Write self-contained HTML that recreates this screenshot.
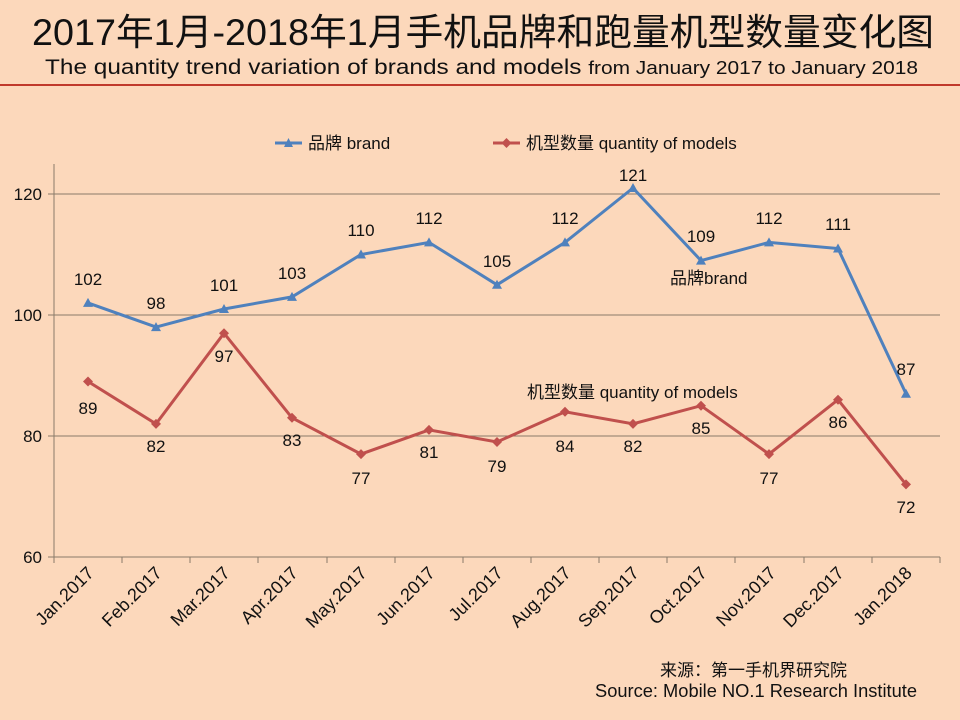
<!DOCTYPE html>
<html><head><meta charset="utf-8"><style>
html,body{margin:0;padding:0;background:#fcd8bb;}
svg{display:block;font-family:"Liberation Sans","Noto Sans CJK SC",sans-serif;}
</style></head><body>
<svg width="960" height="720" viewBox="0 0 960 720" xmlns="http://www.w3.org/2000/svg">
<rect width="960" height="720" fill="#fcd8bb"/>
<text x="32" y="45" font-size="37" fill="#111" textLength="902" lengthAdjust="spacingAndGlyphs" font-family="'Liberation Sans','Noto Sans CJK SC',sans-serif">2017年1月-2018年1月手机品牌和跑量机型数量变化图</text>
<text x="45" y="74" font-size="21" fill="#111" textLength="873" lengthAdjust="spacingAndGlyphs">The quantity trend variation of brands and models <tspan font-size="18">from January 2017 to January 2018</tspan></text>
<line x1="0" y1="85" x2="960" y2="85" stroke="#c0392b" stroke-width="2"/>
<!-- legend -->
<line x1="275" y1="143" x2="302" y2="143" stroke="#4f81bd" stroke-width="3"/>
<polygon points="288.5,138 293,147 284,147" fill="#4f81bd"/>
<text x="308" y="149" font-size="17" fill="#111">品牌 brand</text>
<line x1="493" y1="143" x2="520" y2="143" stroke="#c0504d" stroke-width="3"/>
<polygon points="506.5,138 511.5,143 506.5,148 501.5,143" fill="#c0504d"/>
<text x="526" y="149" font-size="17" fill="#111">机型数量 quantity of models</text>
<!-- grid -->
<g stroke="#8a7a6a" stroke-width="1">
<line x1="48" y1="194" x2="940" y2="194"/>
<line x1="48" y1="315" x2="940" y2="315"/>
<line x1="48" y1="436" x2="940" y2="436"/>
<line x1="48" y1="557" x2="940" y2="557"/>
<line x1="54" y1="164" x2="54" y2="563"/>
<line x1="122" y1="557" x2="122" y2="563"/><line x1="190" y1="557" x2="190" y2="563"/><line x1="258" y1="557" x2="258" y2="563"/><line x1="327" y1="557" x2="327" y2="563"/><line x1="395" y1="557" x2="395" y2="563"/><line x1="463" y1="557" x2="463" y2="563"/><line x1="531" y1="557" x2="531" y2="563"/><line x1="599" y1="557" x2="599" y2="563"/><line x1="667" y1="557" x2="667" y2="563"/><line x1="735" y1="557" x2="735" y2="563"/><line x1="804" y1="557" x2="804" y2="563"/><line x1="872" y1="557" x2="872" y2="563"/><line x1="940" y1="557" x2="940" y2="563"/>
</g>
<g font-size="17" fill="#111" text-anchor="end">
<text x="42" y="200">120</text><text x="42" y="321">100</text><text x="42" y="442">80</text><text x="42" y="563">60</text>
</g>
<g font-size="18" fill="#111" text-anchor="end">
<text transform="translate(95,574) rotate(-45)">Jan.2017</text>
<text transform="translate(163,574) rotate(-45)">Feb.2017</text>
<text transform="translate(231,574) rotate(-45)">Mar.2017</text>
<text transform="translate(299,574) rotate(-45)">Apr.2017</text>
<text transform="translate(368,574) rotate(-45)">May.2017</text>
<text transform="translate(436,574) rotate(-45)">Jun.2017</text>
<text transform="translate(504,574) rotate(-45)">Jul.2017</text>
<text transform="translate(572,574) rotate(-45)">Aug.2017</text>
<text transform="translate(640,574) rotate(-45)">Sep.2017</text>
<text transform="translate(708,574) rotate(-45)">Oct.2017</text>
<text transform="translate(777,574) rotate(-45)">Nov.2017</text>
<text transform="translate(845,574) rotate(-45)">Dec.2017</text>
<text transform="translate(913,574) rotate(-45)">Jan.2018</text>
</g>
<polyline fill="none" stroke="#4f81bd" stroke-width="3" points="88,302.9 156,327.1 224,309 292,296.9 361,254.5 429,242.4 497,284.8 565,242.4 633,188 701,260.6 769,242.4 838,248.5 906,393.7"/>
<g fill="#4f81bd">
<polygon points="88,297.9 93,306.9 83,306.9"/><polygon points="156,322.1 161,331.1 151,331.1"/><polygon points="224,304 229,313 219,313"/><polygon points="292,291.9 297,300.9 287,300.9"/><polygon points="361,249.5 366,258.5 356,258.5"/><polygon points="429,237.4 434,246.4 424,246.4"/><polygon points="497,279.8 502,288.8 492,288.8"/><polygon points="565,237.4 570,246.4 560,246.4"/><polygon points="633,183 638,192 628,192"/><polygon points="701,255.6 706,264.6 696,264.6"/><polygon points="769,237.4 774,246.4 764,246.4"/><polygon points="838,243.5 843,252.5 833,252.5"/><polygon points="906,388.7 911,397.7 901,397.7"/>
</g>
<polyline fill="none" stroke="#c0504d" stroke-width="3" points="88,381.5 156,423.9 224,333.2 292,417.8 361,454.1 429,429.9 497,442 565,411.8 633,423.9 701,405.7 769,454.1 838,399.7 906,484.4"/>
<g fill="#c0504d">
<polygon points="88,376.5 93,381.5 88,386.5 83,381.5"/><polygon points="156,418.9 161,423.9 156,428.9 151,423.9"/><polygon points="224,328.2 229,333.2 224,338.2 219,333.2"/><polygon points="292,412.8 297,417.8 292,422.8 287,417.8"/><polygon points="361,449.1 366,454.1 361,459.1 356,454.1"/><polygon points="429,424.9 434,429.9 429,434.9 424,429.9"/><polygon points="497,437 502,442 497,447 492,442"/><polygon points="565,406.8 570,411.8 565,416.8 560,411.8"/><polygon points="633,418.9 638,423.9 633,428.9 628,423.9"/><polygon points="701,400.7 706,405.7 701,410.7 696,405.7"/><polygon points="769,449.1 774,454.1 769,459.1 764,454.1"/><polygon points="838,394.7 843,399.7 838,404.7 833,399.7"/><polygon points="906,479.4 911,484.4 906,489.4 901,484.4"/>
</g>
<g font-size="17" fill="#111" text-anchor="middle">
<text x="88" y="285">102</text><text x="156" y="309">98</text><text x="224" y="291">101</text><text x="292" y="279">103</text><text x="361" y="236">110</text><text x="429" y="224">112</text><text x="497" y="267">105</text><text x="565" y="224">112</text><text x="633" y="181">121</text><text x="701" y="242">109</text><text x="769" y="224">112</text><text x="838" y="230">111</text><text x="906" y="375">87</text>
<text x="88" y="414">89</text><text x="156" y="452">82</text><text x="224" y="362">97</text><text x="292" y="446">83</text><text x="361" y="484">77</text><text x="429" y="458">81</text><text x="497" y="472">79</text><text x="565" y="452">84</text><text x="633" y="452">82</text><text x="701" y="434">85</text><text x="769" y="484">77</text><text x="838" y="428">86</text><text x="906" y="513">72</text>
</g>
<text x="670" y="284" font-size="17" fill="#111">品牌brand</text>
<text x="527" y="398" font-size="17" fill="#111">机型数量 quantity of models</text>
<text x="660" y="676" font-size="17" fill="#111">来源：第一手机界研究院</text>
<text x="595" y="697" font-size="18" fill="#111" textLength="322" lengthAdjust="spacingAndGlyphs">Source: Mobile NO.1 Research Institute</text>
</svg>
</body></html>
